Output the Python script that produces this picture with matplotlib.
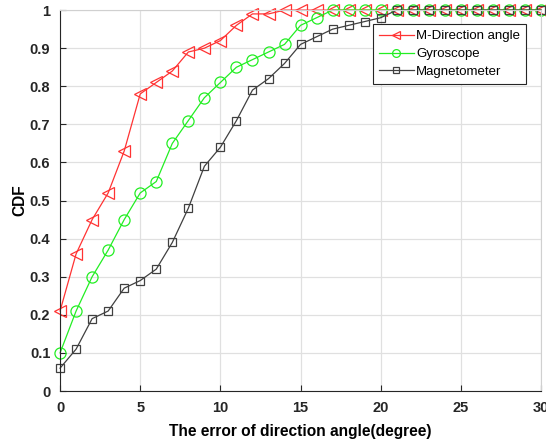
import matplotlib
matplotlib.use("Agg")
import matplotlib.pyplot as plt
import numpy as np

plt.rcParams['font.family'] = ['Liberation Sans', 'DejaVu Sans']

x = np.arange(0, 31)
m_direction = [0.21, 0.36, 0.45, 0.52, 0.63, 0.78, 0.81, 0.84, 0.89, 0.90,
               0.92, 0.96, 0.99, 0.99, 1.0, 1.0] + [1.0] * 15
gyroscope = [0.10, 0.21, 0.30, 0.37, 0.45, 0.52, 0.55, 0.65, 0.71, 0.77,
             0.81, 0.85, 0.87, 0.89, 0.91, 0.96, 0.98] + [1.0] * 14
magnetometer = [0.06, 0.11, 0.19, 0.21, 0.27, 0.29, 0.32, 0.39, 0.48, 0.59,
                0.64, 0.71, 0.79, 0.82, 0.86, 0.91, 0.93, 0.95, 0.96, 0.97,
                0.98] + [1.0] * 10

fig = plt.figure(figsize=(5.46, 4.45), dpi=100)
ax = fig.add_axes([0.110, 0.1213, 0.881, 0.856])

ax.plot(x, m_direction, '-<', color='#ff3333', lw=0.9, ms=8.5, mfc='none',
        mew=0.9, label='M-Direction angle', clip_on=False)
ax.plot(x, gyroscope, '-o', color='#22ee22', lw=0.9, ms=8, mfc='none',
        mew=0.9, label='Gyroscope', clip_on=False)
ax.plot(x, magnetometer, '-s', color='#404040', lw=0.9, ms=6, mfc='none',
        mew=0.9, label='Magnetometer', clip_on=False)

ax.set_xlim(0, 30)
ax.set_ylim(0, 1)
ax.set_xticks(np.arange(0, 31, 5))
ax.set_yticks(np.arange(0, 1.01, 0.1))
ax.set_yticklabels(['0', '0.1', '0.2', '0.3', '0.4', '0.5', '0.6', '0.7',
                    '0.8', '0.9', '1'])
ax.grid(True, color='#e0e0e0', lw=0.9)
ax.set_axisbelow(True)
ax.tick_params(direction='in', length=4, width=0.8, labelsize=10.5,
               colors='#262626', top=False, right=False)
ax.tick_params(axis='x', pad=7.5)
ax.tick_params(axis='y', pad=7)
for lab in ax.get_xticklabels() + ax.get_yticklabels():
    lab.set_fontweight('bold')
for s in ['left', 'bottom']:
    ax.spines[s].set_color('#262626')
    ax.spines[s].set_linewidth(0.8)
for s in ['top', 'right']:
    ax.spines[s].set_color('#d0d0d0')
    ax.spines[s].set_linewidth(0.8)

ax.set_xlabel('The error of direction angle(degree)', fontsize=11.2,
              fontweight='bold', labelpad=6)
ax.set_ylabel('CDF', fontsize=11.2, fontweight='bold', labelpad=2)

leg = ax.legend(loc='upper right', bbox_to_anchor=(0.969, 0.963), fontsize=9.5,
                fancybox=False, framealpha=1, edgecolor='#262626',
                borderpad=0.45, labelspacing=0.42, handlelength=2.6,
                handletextpad=0.2, borderaxespad=0, markerscale=0.7)
leg.get_frame().set_linewidth(0.8)

fig.savefig('out.png', dpi=100)
